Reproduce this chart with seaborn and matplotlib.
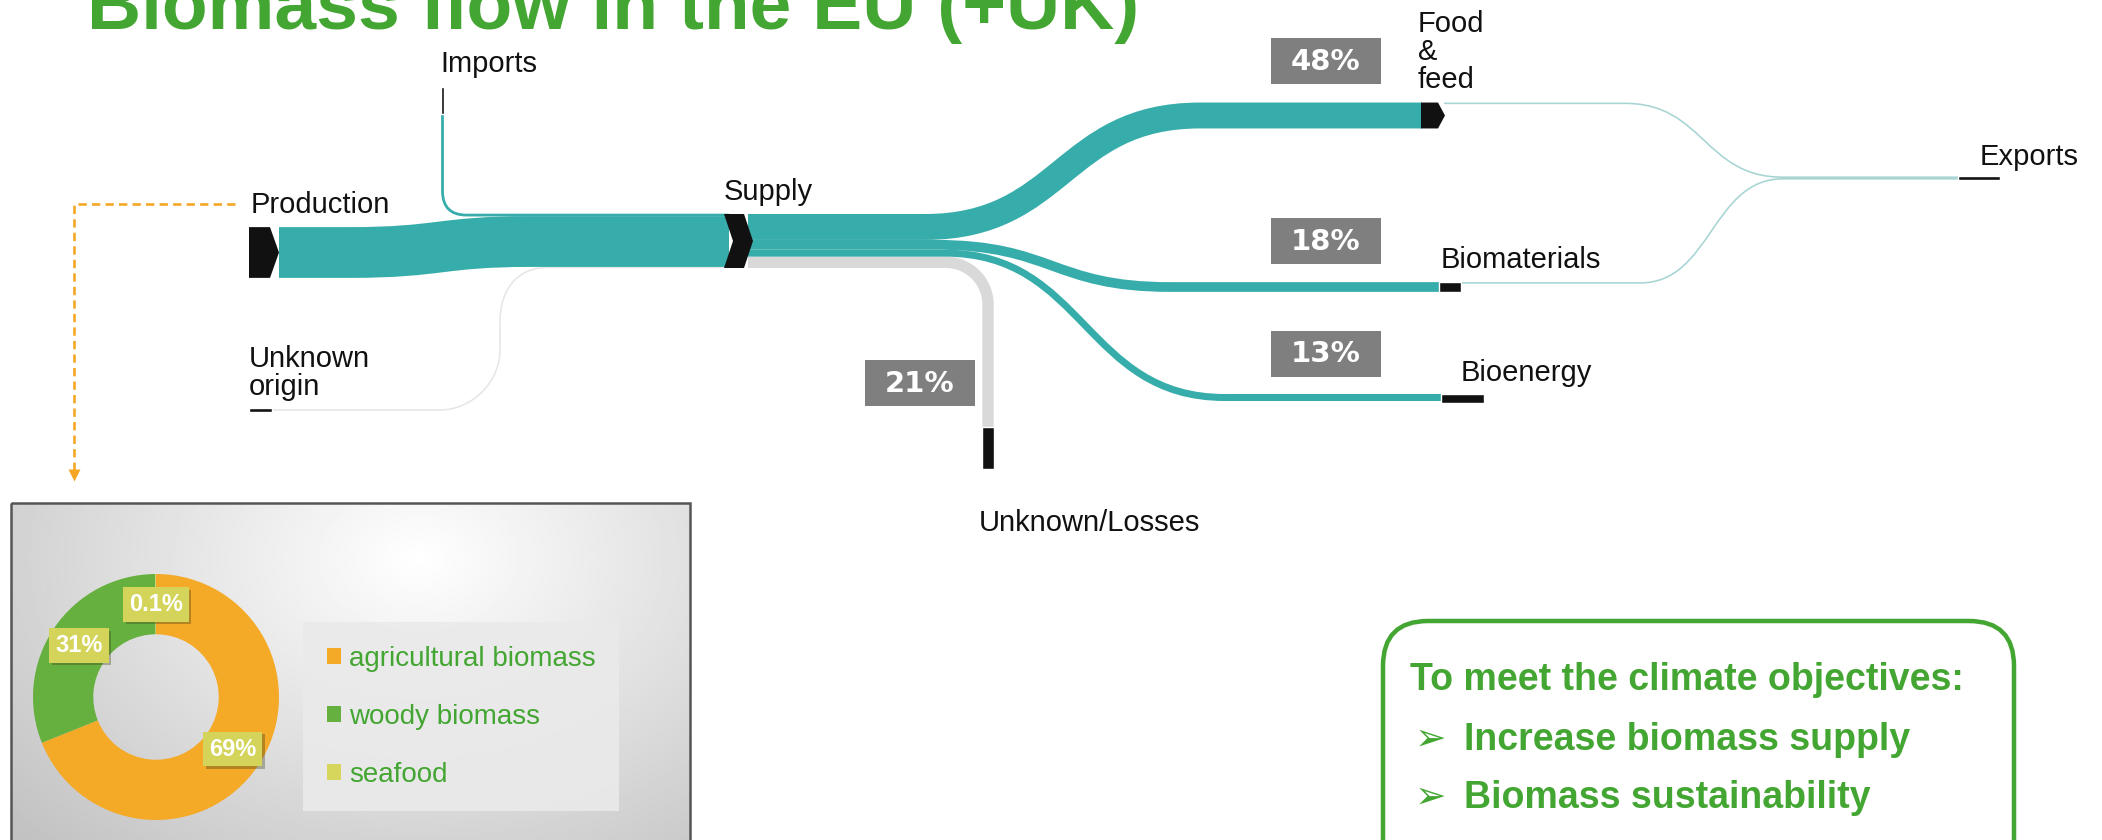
import numpy as np
import matplotlib
matplotlib.use("Agg")
import matplotlib.pyplot as plt
import matplotlib.patches as mpatches
from matplotlib.path import Path
from matplotlib import patheffects
import seaborn as sns

# --- data -------------------------------------------------------------
# flows into / out of the EU supply node (% of supply)
input_names = ["Imports", "Production", "Unknown\norigin"]
input_shares = [4, 94, 2]
output_names = ["Food\n&\nfeed", "Biomaterials", "Bioenergy", "Unknown/Losses"]
output_shares = [48, 18, 13, 21]
export_shares = [3, 3]          # from food & feed, from biomaterials

# origin of the EU biomass production (donut)
origin_names = ["agricultural biomass", "woody biomass", "seafood"]
origin_shares = [69, 31, 0.1]

objectives = ["Increase biomass supply", "Biomass sustainability"]

# --- style ------------------------------------------------------------
W, H, DPI = 2102, 840, 100
TEAL = "#36ADAA"
LOSS = "#D9D9D9"
ORIGIN_GREY = "#E6E6E6"
EXPORT = "#A8D5D3"
NODE = "#111111"
GREEN = "#44A632"
ORANGE = "#F5A623"
BOX_GREY = "#7F7F7F"
donut_colors = sns.color_palette(["#F4A927", "#66B03F", "#D6D65C"])

sns.set_theme(style="white")
plt.rcParams["font.family"] = ["Liberation Sans", "DejaVu Sans"]

LABEL = dict(fontsize=21, color="#111111")
SCALE = 0.54            # band thickness in px per % of supply


def lw(w):
    return w * 72 / DPI


def add_link(ax, verts, codes, width, color, z=2):
    path = Path(verts, codes)
    ax.add_patch(mpatches.PathPatch(path, fc="none", ec=color, lw=lw(width),
                                    capstyle="butt", joinstyle="round", zorder=z))


def s_link(ax, x0, y0, xa, xb, y1, x1, width, color, z=2):
    xm = (xa + xb) / 2
    verts = [(x0, y0), (xa, y0), (xm, y0), (xm, y1), (xb, y1), (x1, y1)]
    codes = [Path.MOVETO, Path.LINETO, Path.CURVE4, Path.CURVE4, Path.CURVE4, Path.LINETO]
    add_link(ax, verts, codes, width, color, z)


def pct_box(ax, cx, cy, text):
    ax.add_patch(mpatches.Rectangle((cx - 55, cy - 23), 110, 46, fc=BOX_GREY, ec="none", zorder=5))
    ax.text(cx, cy + 1, text, ha="center", va="center", color="white", fontsize=21,
            fontweight="bold", family="DejaVu Sans", zorder=6)


fig = plt.figure(figsize=(W / DPI, H / DPI), dpi=DPI)
ax = fig.add_axes([0, 0, 1, 1])

# --- sankey: stacking at the supply node --------------------------------
sup_x0, sup_x1, sup_top = 724, 753, 214
in_w = np.array(input_shares) * SCALE
in_y = sup_top + np.cumsum(in_w) - in_w / 2
out_w = np.array(output_shares) * SCALE
out_y = sup_top + np.cumsum(out_w) - out_w / 2
sup_bot = sup_top + out_w.sum()
sup_mid = (sup_top + sup_bot) / 2

# production -> supply
prod_y = 252.5
s_link(ax, 279, prod_y, 350, 530, in_y[1], sup_x0 + 5, in_w[1], TEAL)

# imports -> supply (down then right)
imp_x, r = 442.5, 24
add_link(ax, [(imp_x, 114), (imp_x, in_y[0] - r), (imp_x, in_y[0]), (imp_x + r, in_y[0]), (sup_x0 + 5, in_y[0])],
         [Path.MOVETO, Path.LINETO, Path.CURVE3, Path.CURVE3, Path.LINETO], in_w[0] + 0.6, TEAL)

# unknown origin -> supply (right, up, right)
uo_y = 410
add_link(ax, [(272, uo_y), (440, uo_y), (472, uo_y), (500, uo_y - 28), (500, uo_y - 60),
              (500, 322), (500, 292), (515, in_y[2]), (548, in_y[2]), (sup_x0, in_y[2])],
         [Path.MOVETO, Path.LINETO, Path.CURVE4, Path.CURVE4, Path.CURVE4, Path.LINETO,
          Path.CURVE4, Path.CURVE4, Path.CURVE4, Path.LINETO], max(in_w[2], 1.6), ORIGIN_GREY, z=1)

# supply -> food & feed, biomaterials, bioenergy
food_y, biomat_y, bioen_y = 115.5, 287, 397.5
s_link(ax, sup_x1 - 5, out_y[0], 925, 1200, food_y, 1422, out_w[0], TEAL)
s_link(ax, sup_x1 - 5, out_y[1], 935, 1170, biomat_y, 1440, out_w[1], TEAL)
s_link(ax, sup_x1 - 5, out_y[2], 945, 1225, bioen_y, 1442, out_w[2], TEAL)

# supply -> unknown/losses (right then down)
loss_x, rr = 988, 42
add_link(ax, [(sup_x1 - 5, out_y[3]), (loss_x - rr, out_y[3]), (loss_x - rr + 0.55 * rr, out_y[3]),
              (loss_x, out_y[3] + rr - 0.55 * rr), (loss_x, out_y[3] + rr), (loss_x, 427)],
         [Path.MOVETO, Path.LINETO, Path.CURVE4, Path.CURVE4, Path.CURVE4, Path.LINETO],
         out_w[3], LOSS, z=1)

# exports
exp_w = np.array(export_shares) * SCALE
merge_x, exp_y = 1783, 178
s_link(ax, 1444, food_y - out_w[0] / 2 + exp_w[0] / 2, 1625, merge_x, exp_y - exp_w[0] / 2, 1960, exp_w[0], EXPORT)
s_link(ax, 1461, biomat_y - out_w[1] / 2 + exp_w[1] / 2, 1640, merge_x, exp_y + exp_w[1] / 2, 1960, exp_w[1], EXPORT)

# --- nodes ------------------------------------------------------------
h = in_w[1] / 2
ax.add_patch(mpatches.Polygon([(249, prod_y - h), (270, prod_y - h), (279, prod_y), (270, prod_y + h), (249, prod_y + h)],
                              fc=NODE, ec="none", zorder=4))
ax.add_patch(mpatches.Polygon([(sup_x0, sup_top), (sup_x1 - 9, sup_top), (sup_x1, sup_mid), (sup_x1 - 9, sup_bot),
                               (sup_x0, sup_bot), (sup_x0 + 9, sup_mid)], fc=NODE, ec="none", zorder=4))
h = out_w[0] / 2
ax.add_patch(mpatches.Polygon([(1421, food_y - h), (1438, food_y - h), (1445, food_y), (1438, food_y + h), (1421, food_y + h)],
                              fc=NODE, ec="none", zorder=4))
ax.add_patch(mpatches.Rectangle((1439, biomat_y - out_w[1] / 2), 22, out_w[1], fc=NODE, zorder=4))
ax.add_patch(mpatches.Rectangle((1441, bioen_y - out_w[2] / 2), 43, out_w[2] + 2, fc=NODE, zorder=4))
ax.add_patch(mpatches.Rectangle((loss_x - out_w[3] / 2, 427), out_w[3], 42, fc=NODE, zorder=4))
ax.add_patch(mpatches.Rectangle((imp_x - 1.5, 87), 3, 27, fc=NODE, zorder=4))
ax.add_patch(mpatches.Rectangle((249, uo_y - 2), 23, 4, fc=NODE, zorder=4))
ax.add_patch(mpatches.Rectangle((1958, exp_y - 2), 42, 4, fc=NODE, zorder=4))

# --- node labels ------------------------------------------------------
ax.text(440, 64, input_names[0], ha="left", va="center", **LABEL)
ax.text(251, 205, input_names[1], ha="left", va="center", **LABEL)
ax.text(249, 373, input_names[2], ha="left", va="center", linespacing=1.0, **LABEL)
ax.text(724, 192, "Supply", ha="left", va="center", **LABEL)
ax.text(1418, 52, output_names[0], ha="left", va="center", linespacing=0.98, **LABEL)
ax.text(1441, 260, output_names[1], ha="left", va="center", **LABEL)
ax.text(1461, 373, output_names[2], ha="left", va="center", **LABEL)
ax.text(979, 523, output_names[3], ha="left", va="center", **LABEL)
ax.text(1980, 157, "Exports", ha="left", va="center", **LABEL)

for (cx, cy), share in zip([(1326, 61), (1326, 240.5), (1326, 353.5), (920, 383)], output_shares):
    pct_box(ax, cx, cy, f"{share}%")

# title
ax.text(87, 29, "Biomass flow in the EU (+UK)", ha="left", va="baseline", fontsize=54,
        fontweight="bold", color=GREEN)

# dashed pointer from production to the donut panel
ax.plot([235, 74, 74], [204, 204, 470], color=ORANGE, lw=lw(2.6), dashes=(3.2, 2.0))
ax.plot([74], [475], marker="v", ms=9, color=ORANGE, mec="none")

# --- donut panel ------------------------------------------------------
gy, gx = np.mgrid[0:1:200j, 0:1:400j]
d = np.sqrt(((gx - 0.6) / 0.75) ** 2 + ((gy - 0.15) / 1.0) ** 2)
shade = np.clip(1 - 0.22 * d, 0, 1)
ax.imshow(shade, cmap="gray", vmin=0, vmax=1, extent=(11, 690, 870, 503), aspect="auto", zorder=0)
ax.add_patch(mpatches.Rectangle((11, 503), 679, 367, fill=False, ec="#555555", lw=lw(2.5), zorder=1))

dax = fig.add_axes([(156 - 123) / W, 20 / H, 246 / W, 246 / H])
wedges, _, autotexts = dax.pie(
    origin_shares, colors=donut_colors, startangle=90, counterclock=False,
    wedgeprops=dict(width=0.49, edgecolor="none"),
    autopct=lambda p: f"{p:.0f}%" if p >= 1 else f"{p:.1f}%", pctdistance=0.755,
    textprops=dict(color="white", fontsize=17, fontweight="bold"))
dax.set_xlim(-1, 1)
dax.set_ylim(-1, 1)
dax.set_aspect("equal")
dax.axis("off")
for t in autotexts:
    t.set_bbox(dict(boxstyle="square,pad=0.25", fc="#D4D45A", ec="none"))
    t.get_bbox_patch().set_path_effects([patheffects.SimplePatchShadow(offset=(2, -2), alpha=0.35),
                                         patheffects.Normal()])

leg = ax.legend(wedges, origin_names, loc="upper left", bbox_to_anchor=(303 / W, 1 - 622 / H),
                borderaxespad=0, fontsize=20, labelcolor=GREEN, frameon=True, fancybox=False,
                handlelength=0.5, handleheight=0.5, handletextpad=0.3, labelspacing=1.15,
                borderpad=0.85)
leg.get_frame().set_facecolor("#EAEAEA")
leg.get_frame().set_edgecolor("none")
leg.get_frame().set_alpha(0.9)

# --- objectives box -----------------------------------------------------
ax.add_patch(mpatches.FancyBboxPatch((1383, 621), 631, 320, boxstyle="round,pad=0,rounding_size=45",
                                     fc="white", ec=GREEN, lw=lw(4.5), zorder=2))
ax.text(1410, 680, "To meet the climate objectives:", ha="left", va="center", fontsize=27,
        fontweight="bold", color=GREEN, zorder=3)
for yy, line in zip([740, 798], objectives):
    ax.text(1415, yy, "\u27a2", ha="left", va="center", fontsize=27, color=GREEN,
            family=["DejaVu Sans"], zorder=3)
    ax.text(1464, yy, line, ha="left", va="center", fontsize=27, fontweight="bold",
            color=GREEN, zorder=3)

ax.set_xlim(0, W)
ax.set_ylim(H, 0)
ax.axis("off")

fig.savefig("out.png", dpi=DPI)
